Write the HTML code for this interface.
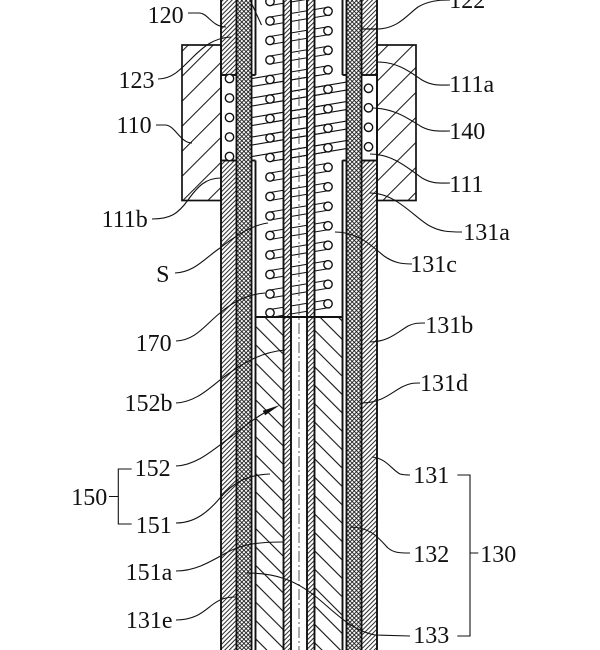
<!DOCTYPE html>
<html><head><meta charset="utf-8">
<style>
html,body{margin:0;padding:0;background:#fff;}
svg{display:block;}
text{font-family:"Liberation Serif",serif;font-size:24px;fill:#111;}
</style></head><body>
<svg width="600" height="650" viewBox="0 0 600 650" xmlns="http://www.w3.org/2000/svg">
<defs>
<pattern id="hf" width="3.2" height="10" patternUnits="userSpaceOnUse" patternTransform="rotate(45)">
 <line x1="1" y1="0" x2="1" y2="10" stroke="#111" stroke-width="0.9"/>
</pattern>
<pattern id="cr" width="3" height="3" patternUnits="userSpaceOnUse" patternTransform="rotate(45)">
 <line x1="0.5" y1="0" x2="0.5" y2="3" stroke="#111" stroke-width="0.85"/>
 <line x1="0" y1="0.5" x2="3" y2="0.5" stroke="#111" stroke-width="0.85"/>
</pattern>
<pattern id="h151" width="13" height="10" patternUnits="userSpaceOnUse" patternTransform="rotate(-45)">
 <line x1="2" y1="0" x2="2" y2="10" stroke="#111" stroke-width="1.1"/>
</pattern>
<pattern id="hb" width="17.68" height="10" patternUnits="userSpaceOnUse" patternTransform="rotate(45)">
 <line x1="5.87" y1="0" x2="5.87" y2="10" stroke="#111" stroke-width="1"/>
</pattern>
<clipPath id="mid"><rect x="251.5" y="75" width="95" height="85.5"/></clipPath>
</defs>

<rect x="0" y="0" width="600" height="650" fill="#fff"/>

<!-- blocks 110 -->
<rect x="182" y="45" width="39" height="155.5" fill="url(#hb)" stroke="#111" stroke-width="1.7"/>
<rect x="377" y="45" width="39" height="155.5" fill="url(#hb)" stroke="#111" stroke-width="1.7"/>

<!-- outer strips -->
<rect x="221" y="0" width="15.5" height="75" fill="url(#hf)"/>
<rect x="221" y="160.5" width="15.5" height="489.5" fill="url(#hf)"/>
<rect x="361.5" y="0" width="15.5" height="75" fill="url(#hf)"/>
<rect x="361.5" y="160.5" width="15.5" height="489.5" fill="url(#hf)"/>

<!-- crosshatch 132 -->
<rect x="236.5" y="0" width="15" height="650" fill="url(#cr)"/>
<rect x="346.5" y="0" width="15" height="650" fill="url(#cr)"/>

<!-- spring 170 wires: middle extended section -->
<g clip-path="url(#mid)" stroke="#111" stroke-width="1.1">
 <line x1="251.5" y1="59.1" x2="346.5" y2="43.1"/><line x1="251.5" y1="67.1" x2="346.5" y2="51.1"/>
 <line x1="251.5" y1="78.6" x2="346.5" y2="62.6"/><line x1="251.5" y1="86.6" x2="346.5" y2="70.6"/>
 <line x1="251.5" y1="98.1" x2="346.5" y2="82.1"/><line x1="251.5" y1="106.1" x2="346.5" y2="90.1"/>
 <line x1="251.5" y1="117.6" x2="346.5" y2="101.6"/><line x1="251.5" y1="125.6" x2="346.5" y2="109.6"/>
 <line x1="251.5" y1="137.1" x2="346.5" y2="121.1"/><line x1="251.5" y1="145.1" x2="346.5" y2="129.1"/>
 <line x1="251.5" y1="156.6" x2="346.5" y2="140.6"/><line x1="251.5" y1="164.6" x2="346.5" y2="148.6"/>
 <line x1="251.5" y1="176.1" x2="346.5" y2="160.1"/><line x1="251.5" y1="184.1" x2="346.5" y2="168.1"/>
</g>
<!-- spring 170 wires circle-to-circle -->
<g stroke="#111" stroke-width="1.1">
 <line x1="270" y1="-2.5" x2="328" y2="-12.25"/><line x1="270" y1="5.5" x2="328" y2="-4.25"/>
 <line x1="270" y1="17" x2="328" y2="7.25"/><line x1="270" y1="25" x2="328" y2="15.25"/>
 <line x1="270" y1="36.5" x2="328" y2="26.75"/><line x1="270" y1="44.5" x2="328" y2="34.75"/>
 <line x1="270" y1="56" x2="328" y2="46.25"/><line x1="270" y1="64" x2="328" y2="54.25"/>
 <line x1="270" y1="75.5" x2="328" y2="65.75"/><line x1="270" y1="83.5" x2="328" y2="73.75"/>
 <line x1="270" y1="95" x2="328" y2="85.25"/><line x1="270" y1="103" x2="328" y2="93.25"/>
 <line x1="270" y1="114.5" x2="328" y2="104.75"/><line x1="270" y1="122.5" x2="328" y2="112.75"/>
 <line x1="270" y1="134" x2="328" y2="124.25"/><line x1="270" y1="142" x2="328" y2="132.25"/>
 <line x1="270" y1="153.5" x2="328" y2="143.75"/><line x1="270" y1="161.5" x2="328" y2="151.75"/>
 <line x1="270" y1="173" x2="328" y2="163.25"/><line x1="270" y1="181" x2="328" y2="171.25"/>
 <line x1="270" y1="192.5" x2="328" y2="182.75"/><line x1="270" y1="200.5" x2="328" y2="190.75"/>
 <line x1="270" y1="212" x2="328" y2="202.25"/><line x1="270" y1="220" x2="328" y2="210.25"/>
 <line x1="270" y1="231.5" x2="328" y2="221.75"/><line x1="270" y1="239.5" x2="328" y2="229.75"/>
 <line x1="270" y1="251" x2="328" y2="241.25"/><line x1="270" y1="259" x2="328" y2="249.25"/>
 <line x1="270" y1="270.5" x2="328" y2="260.75"/><line x1="270" y1="278.5" x2="328" y2="268.75"/>
 <line x1="270" y1="290" x2="328" y2="280.25"/><line x1="270" y1="298" x2="328" y2="288.25"/>
 <line x1="270" y1="309.5" x2="328" y2="299.75"/><line x1="270" y1="317.5" x2="328" y2="307.75"/>
</g>
<!-- spring 170 circles -->
<g fill="#fff" stroke="#111" stroke-width="1.4">
 <circle cx="270" cy="1.5" r="4.2"/><circle cx="270" cy="21" r="4.2"/><circle cx="270" cy="40.5" r="4.2"/>
 <circle cx="270" cy="60" r="4.2"/><circle cx="270" cy="79.5" r="4.2"/><circle cx="270" cy="99" r="4.2"/>
 <circle cx="270" cy="118.5" r="4.2"/><circle cx="270" cy="138" r="4.2"/><circle cx="270" cy="157.5" r="4.2"/>
 <circle cx="270" cy="177" r="4.2"/><circle cx="270" cy="196.5" r="4.2"/><circle cx="270" cy="216" r="4.2"/>
 <circle cx="270" cy="235.5" r="4.2"/><circle cx="270" cy="255" r="4.2"/><circle cx="270" cy="274.5" r="4.2"/>
 <circle cx="270" cy="294" r="4.2"/><circle cx="270" cy="312.8" r="4.2"/>
 <circle cx="328" cy="11.25" r="4.2"/><circle cx="328" cy="30.75" r="4.2"/><circle cx="328" cy="50.25" r="4.2"/>
 <circle cx="328" cy="69.75" r="4.2"/><circle cx="328" cy="89.25" r="4.2"/><circle cx="328" cy="108.75" r="4.2"/>
 <circle cx="328" cy="128.25" r="4.2"/><circle cx="328" cy="147.75" r="4.2"/><circle cx="328" cy="167.25" r="4.2"/>
 <circle cx="328" cy="186.75" r="4.2"/><circle cx="328" cy="206.25" r="4.2"/><circle cx="328" cy="225.75" r="4.2"/>
 <circle cx="328" cy="245.25" r="4.2"/><circle cx="328" cy="264.75" r="4.2"/><circle cx="328" cy="284.25" r="4.2"/>
 <circle cx="328" cy="303.75" r="4.2"/>
</g>

<!-- 151 sections -->
<rect x="255.5" y="317" width="28" height="333" fill="#fff"/>
<rect x="314.5" y="317" width="28" height="333" fill="#fff"/>
<rect x="255.5" y="317" width="28" height="333" fill="url(#h151)"/>
<rect x="314.5" y="317" width="28" height="333" fill="url(#h151)"/>

<!-- 152 tube strips -->
<rect x="283.5" y="0" width="7.5" height="650" fill="#fff"/>
<rect x="307" y="0" width="7.5" height="650" fill="#fff"/>
<rect x="283.5" y="0" width="7.5" height="650" fill="url(#hf)"/>
<rect x="307" y="0" width="7.5" height="650" fill="url(#hf)"/>

<!-- outlines -->
<g stroke="#111" stroke-width="1.9" fill="none">
 <line x1="221" y1="0" x2="221" y2="650"/>
 <line x1="377" y1="0" x2="377" y2="650"/>
 <line x1="236.5" y1="0" x2="236.5" y2="650"/>
 <line x1="361.5" y1="0" x2="361.5" y2="650"/>
 <line x1="251.5" y1="0" x2="251.5" y2="650"/>
 <line x1="346.5" y1="0" x2="346.5" y2="650"/>
 <line x1="255.5" y1="0" x2="255.5" y2="75"/>
 <line x1="255.5" y1="160.5" x2="255.5" y2="650"/>
 <line x1="342.5" y1="0" x2="342.5" y2="75"/>
 <line x1="342.5" y1="160.5" x2="342.5" y2="650"/>
 <line x1="283.5" y1="0" x2="283.5" y2="650"/>
 <line x1="291" y1="0" x2="291" y2="650"/>
 <line x1="307" y1="0" x2="307" y2="650"/>
 <line x1="314.5" y1="0" x2="314.5" y2="650"/>
 <line x1="221" y1="75" x2="236.5" y2="75"/>
 <line x1="221" y1="160.5" x2="236.5" y2="160.5"/>
 <line x1="361.5" y1="75" x2="377" y2="75"/>
 <line x1="361.5" y1="160.5" x2="377" y2="160.5"/>
 <line x1="251.5" y1="75" x2="255.5" y2="75"/>
 <line x1="251.5" y1="160.5" x2="255.5" y2="160.5"/>
 <line x1="342.5" y1="75" x2="346.5" y2="75"/>
 <line x1="342.5" y1="160.5" x2="346.5" y2="160.5"/>
 <line x1="255.5" y1="317" x2="342.5" y2="317"/>
</g>
<line x1="361.5" y1="29" x2="377" y2="29" stroke="#111" stroke-width="1.3"/>

<!-- center dash-dot -->
<line x1="299" y1="0" x2="299" y2="650" stroke="#555" stroke-width="1" stroke-dasharray="11 3 2 3"/>

<!-- spring 140 circles -->
<g fill="#fff" stroke="#111" stroke-width="1.4">
 <circle cx="229.5" cy="78.5" r="4.2"/><circle cx="229.5" cy="98" r="4.2"/><circle cx="229.5" cy="117.5" r="4.2"/>
 <circle cx="229.5" cy="137" r="4.2"/><circle cx="229.5" cy="156.5" r="4.2"/>
 <circle cx="368.5" cy="88.3" r="4.2"/><circle cx="368.5" cy="107.8" r="4.2"/><circle cx="368.5" cy="127.3" r="4.2"/>
 <circle cx="368.5" cy="146.8" r="4.2"/>
</g>

<!-- leaders -->
<g stroke="#111" stroke-width="1.1" fill="none">
 <line x1="250" y1="0" x2="261.5" y2="25"/>
 <path d="M188,13 L199,13 C208,13 212,27 226,27"/>
 <path d="M158,79 C172,79 180,70 192,58 C204,46 214,38 231,37"/>
 <path d="M156,125 L165,125 C175,125 180,143 192,143"/>
 <path d="M152,219 C170,219 178,214 188,200 C198,186 206,178 221,178"/>
 <path d="M175,273 C195,272 205,258 220,248 C235,236 252,225 268,223"/>
 <path d="M176,341 C196,340 205,325 220,313 C235,300 250,294 265,293"/>
 <path d="M176,403 C198,402 212,385 228,374 C245,362 262,352 285,350"/>
 <path d="M176,466 C198,465 215,448 232,436 C242,428 252,420 264,413"/>
 <path d="M176,523 C195,523 208,512 220,498 C232,484 245,475 270,474"/>
 <path d="M176,571 C195,571 210,562 226,553 C240,545 255,542 283,542"/>
 <path d="M176,620 C195,620 203,612 212,605 C220,599 226,597 236,597"/>
 <path d="M377,29 C398,29 408,14 418,7 C428,1 438,0 450,0"/>
 <path d="M377,62 C398,62 410,72 422,80 C432,86 440,85 450,85"/>
 <path d="M372,108 C395,108 410,120 422,127 C432,132 440,131 450,131"/>
 <path d="M370,154 C394,154 410,170 422,178 C432,184 440,183 450,183"/>
 <path d="M370,193 C395,193 412,215 428,225 C440,232 450,232 462,232"/>
 <path d="M335,232 C358,232 372,246 384,256 C394,263 402,264 412,264"/>
 <path d="M370,342 C388,342 398,332 408,326 C414,323 418,323 425,323"/>
 <path d="M362,403 C382,403 392,392 402,387 C410,383 414,383 420,383"/>
 <path d="M372,457 C386,458 392,470 400,474 C404,475 406,475 410,475"/>
 <path d="M350,527 C372,527 380,540 388,548 C394,553 400,553 410,553"/>
 <path d="M247,573 C275,573 295,580 315,596 C335,612 350,630 375,635 L410,636"/>
 <path d="M131.7,469 H118.3 V524 H131.7 M109,496.5 H118.3"/>
 <path d="M457.3,475 H470 V636 H457.3 M470,553 H478.3"/>
</g>
<polygon points="280,405 265.1,415.3 262.7,410.7" fill="#111"/>

<!-- labels -->
<g text-anchor="end">
 <text x="183.6" y="23">120</text>
 <text x="154.5" y="88">123</text>
 <text x="151.6" y="133">110</text>
 <text x="147.8" y="227">111b</text>
 <text x="169.5" y="282">S</text>
 <text x="171.6" y="351">170</text>
 <text x="172.5" y="411">152b</text>
 <text x="170.6" y="476">152</text>
 <text x="171.8" y="533">151</text>
 <text x="107.3" y="505">150</text>
 <text x="172.3" y="580">151a</text>
 <text x="172.5" y="628">131e</text>
</g>
<g text-anchor="start">
 <text x="449.3" y="8">122</text>
 <text x="449.3" y="92">111a</text>
 <text x="449.3" y="139">140</text>
 <text x="449.3" y="192">111</text>
 <text x="463.3" y="240">131a</text>
 <text x="410.3" y="272">131c</text>
 <text x="425.3" y="333">131b</text>
 <text x="420" y="391">131d</text>
 <text x="413.3" y="483">131</text>
 <text x="413.3" y="562">132</text>
 <text x="413.3" y="643">133</text>
 <text x="480.3" y="562">130</text>
</g>
</svg>
</body></html>
